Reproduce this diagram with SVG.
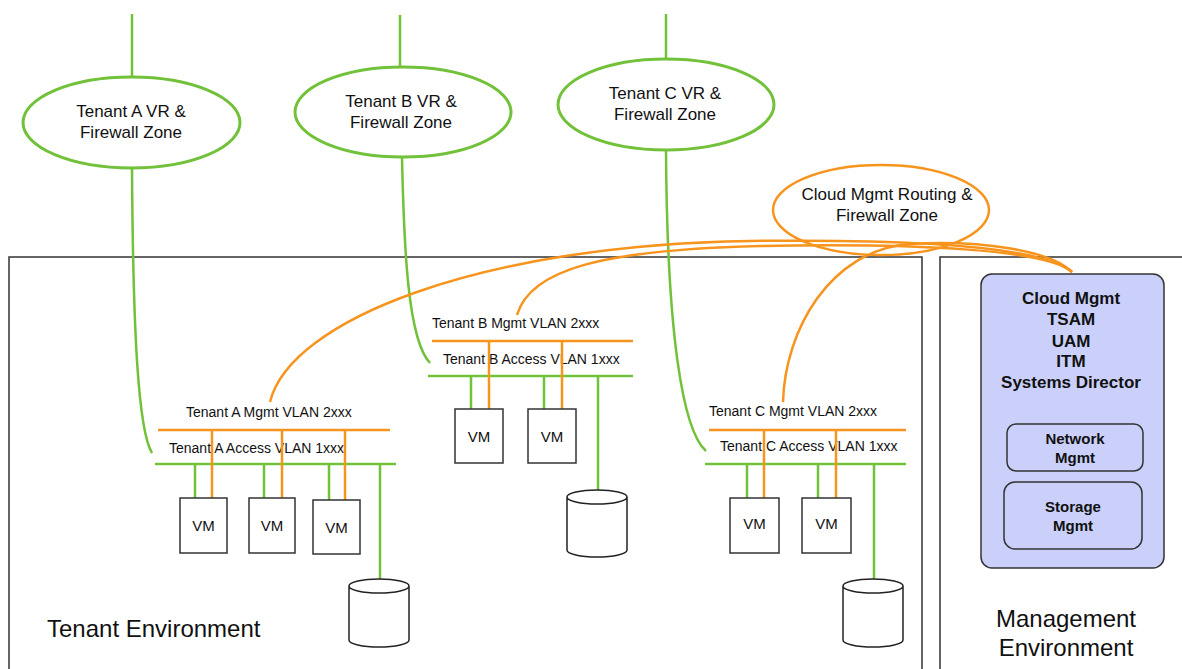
<svg xmlns="http://www.w3.org/2000/svg" width="1182" height="669" viewBox="0 0 1182 669">
<style>
text{font-family:"Liberation Sans",Arial,sans-serif;fill:#111}
.g{stroke:#72c13a;stroke-width:2.5;fill:none}
.o{stroke:#f7941d;stroke-width:2.5;fill:none}
.ge{stroke:#72c13a;stroke-width:3;fill:#fff}
.oe{stroke:#f7941d;stroke-width:2.5;fill:none}
.env{stroke:#333;stroke-width:1.5;fill:none}
.vm{stroke:#333;stroke-width:1.5;fill:#fff}
.zt{font-size:17px;text-anchor:middle}
.vl{font-size:14px}
.vmt{font-size:15px;text-anchor:middle}
.big{font-size:24px}
.b{font-weight:bold;text-anchor:middle}
.cyl{stroke:#222;stroke-width:1.5;fill:#fff}
.bx{fill:#cad0fa;stroke:#333;stroke-width:1.5}
</style>
<g id="tenant-env">
<rect class="env" x="9" y="257" width="913" height="430"/>
<text class="big" x="47" y="637">Tenant Environment</text>
</g>
<g id="mgmt-env">
<rect class="env" x="940" y="257" width="260" height="430"/>
<text class="big" x="1066" y="627" text-anchor="middle">Management</text>
<text class="big" x="1066" y="656" text-anchor="middle">Environment</text>
</g>
<g id="connectors">
<line class="g" x1="132" y1="14" x2="132" y2="78"/>
<line class="g" x1="400" y1="15" x2="400" y2="67"/>
<line class="g" x1="666" y1="14" x2="666" y2="59"/>
<path class="g" d="M132,168 C133,330 138,430 152,453"/>
<path class="g" d="M402,157 C404,250 408,340 430,363"/>
<path class="g" d="M666,150 C667,330 682,430 706,451"/>
<path class="o" d="M270,402 C290,320 480,245 750,241 C900,239 1040,245 1072,272"/>
<path class="o" d="M517,315 C530,270 600,250 760,246 C920,243 1050,250 1072,272"/>
<path class="o" d="M783,402 C785,330 830,250 910,244 C980,240 1050,250 1072,272"/>
</g>
<g id="zone-a">
<ellipse class="ge" cx="131.5" cy="122.5" rx="108.5" ry="45.5"/>
<text class="zt" x="131" y="117">Tenant A VR &amp;</text>
<text class="zt" x="131" y="138">Firewall Zone</text>
</g>
<g id="zone-b">
<ellipse class="ge" cx="403" cy="112" rx="108" ry="45"/>
<text class="zt" x="401" y="107">Tenant B VR &amp;</text>
<text class="zt" x="401" y="128">Firewall Zone</text>
</g>
<g id="zone-c">
<ellipse class="ge" cx="666" cy="104.5" rx="108" ry="45.5"/>
<text class="zt" x="665" y="99">Tenant C VR &amp;</text>
<text class="zt" x="665" y="120">Firewall Zone</text>
</g>
<g id="zone-cloud">
<ellipse class="oe" cx="881" cy="210" rx="108" ry="45"/>
<text class="zt" x="887" y="200">Cloud Mgmt Routing &amp;</text>
<text class="zt" x="887" y="221">Firewall Zone</text>
</g>
<g id="tenant-a-vlans">
<text class="vl" x="186" y="417">Tenant A Mgmt VLAN 2xxx</text>
<text class="vl" x="169" y="453">Tenant A Access VLAN 1xxx</text>
<line class="o" x1="158" y1="430" x2="390" y2="430" stroke-width="3"/>
<line class="g" x1="155" y1="464" x2="396" y2="464" stroke-width="3"/>
<line class="g" x1="195" y1="464" x2="195" y2="498"/>
<line class="g" x1="264" y1="464" x2="264" y2="498"/>
<line class="g" x1="329" y1="464" x2="329" y2="500"/>
<line class="o" x1="212" y1="430" x2="212" y2="498"/>
<line class="o" x1="282" y1="430" x2="282" y2="498"/>
<line class="o" x1="345" y1="430" x2="345" y2="500"/>
<line class="g" x1="380" y1="464" x2="380" y2="579"/>
</g>
<g id="vm-a1"><rect class="vm" x="180" y="498" width="47" height="55"/><text class="vmt" x="203.5" y="531">VM</text></g>
<g id="vm-a2"><rect class="vm" x="249" y="498" width="46" height="55"/><text class="vmt" x="272" y="531">VM</text></g>
<g id="vm-a3"><rect class="vm" x="313" y="500" width="47" height="54"/><text class="vmt" x="336.5" y="533">VM</text></g>
<g id="storage-a"><path class="cyl" d="M349,586 A30,7 0 0 1 409,586 L409,640 A30,7 0 0 1 349,640 Z M349,586 A30,7 0 0 0 409,586"/></g>
<g id="tenant-b-vlans">
<text class="vl" x="432" y="328">Tenant B Mgmt VLAN 2xxx</text>
<text class="vl" x="443" y="364">Tenant B Access VLAN 1xxx</text>
<line class="o" x1="432" y1="341" x2="633" y2="341" stroke-width="3"/>
<line class="g" x1="428" y1="376" x2="633" y2="376" stroke-width="3"/>
<line class="g" x1="471" y1="376" x2="471" y2="409"/>
<line class="g" x1="544" y1="376" x2="544" y2="409"/>
<line class="o" x1="489" y1="341" x2="489" y2="409"/>
<line class="o" x1="562" y1="341" x2="562" y2="409"/>
<line class="g" x1="598" y1="376" x2="598" y2="490"/>
</g>
<g id="vm-b1"><rect class="vm" x="455" y="409" width="48" height="54"/><text class="vmt" x="479" y="442">VM</text></g>
<g id="vm-b2"><rect class="vm" x="528" y="409" width="48" height="54"/><text class="vmt" x="552" y="442">VM</text></g>
<g id="storage-b"><path class="cyl" d="M567,497 A30,7 0 0 1 627,497 L627,550 A30,7 0 0 1 567,550 Z M567,497 A30,7 0 0 0 627,497"/></g>
<g id="tenant-c-vlans">
<text class="vl" x="709" y="416">Tenant C Mgmt VLAN 2xxx</text>
<text class="vl" x="720" y="451">Tenant C Access VLAN 1xxx</text>
<line class="o" x1="709" y1="430" x2="906" y2="430" stroke-width="3"/>
<line class="g" x1="705" y1="464" x2="906" y2="464" stroke-width="3"/>
<line class="g" x1="747" y1="464" x2="747" y2="498"/>
<line class="g" x1="818" y1="464" x2="818" y2="498"/>
<line class="o" x1="764" y1="430" x2="764" y2="498"/>
<line class="o" x1="836" y1="430" x2="836" y2="498"/>
<line class="g" x1="874" y1="464" x2="874" y2="579"/>
</g>
<g id="vm-c1"><rect class="vm" x="730" y="498" width="49" height="55"/><text class="vmt" x="754.5" y="529">VM</text></g>
<g id="vm-c2"><rect class="vm" x="802" y="498" width="49" height="55"/><text class="vmt" x="826.5" y="529">VM</text></g>
<g id="storage-c"><path class="cyl" d="M843,586 A30,7 0 0 1 903,586 L903,640 A30,7 0 0 1 843,640 Z M843,586 A30,7 0 0 0 903,586"/></g>
<g id="cloud-mgmt">
<rect class="bx" x="981" y="274" width="183" height="294" rx="11"/>
<text class="b" x="1071" y="304" font-size="17">Cloud Mgmt</text>
<text class="b" x="1071" y="325" font-size="17">TSAM</text>
<text class="b" x="1071" y="347" font-size="17">UAM</text>
<text class="b" x="1071" y="367" font-size="17">ITM</text>
<text class="b" x="1071" y="388" font-size="17">Systems Director</text>
</g>
<g id="network-mgmt">
<rect class="bx" x="1007" y="424" width="136" height="47" rx="9"/>
<text class="b" x="1075" y="444" font-size="15">Network</text>
<text class="b" x="1075" y="463" font-size="15">Mgmt</text>
</g>
<g id="storage-mgmt">
<rect class="bx" x="1004" y="482" width="138" height="67" rx="11"/>
<text class="b" x="1073" y="512" font-size="15">Storage</text>
<text class="b" x="1073" y="531" font-size="15">Mgmt</text>
</g>
</svg>
